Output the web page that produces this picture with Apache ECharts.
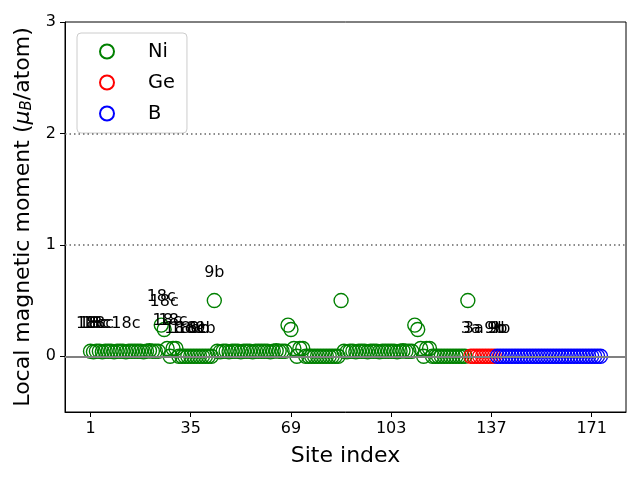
<!DOCTYPE html>
<html>
<head>
<meta charset="utf-8">
<script src="https://cdn.jsdelivr.net/npm/echarts@6/dist/echarts.min.js"></script>
<style>html,body{margin:0;padding:0;background:#fff;}#c{width:640px;height:480px;}</style>
</head>
<body>
<div id="c"></div>
<script>
// Local magnetic moments per site (muB/atom)
const niValues = [
  0.045,0.04,0.045,0.045,0.04,0.045,0.045,0.045,0.04,0.045,0.045,0.045,0.04,0.045,0.045,0.045,0.045,0.045,0.04,0.045,0.05,0.045,0.045,0.045,
  0.28,0.24,
  0.07,0.0,0.07,0.07,0.0,0.0,
  0.0,0.0,0.0,0.0,0.0,0.0,0.0,0.0,0.0,0.0,
  0.5,
  0.045,0.04,0.045,0.045,0.04,0.045,0.045,0.045,0.04,0.045,0.045,0.045,0.04,0.045,0.045,0.045,0.045,0.045,0.04,0.045,0.05,0.045,0.045,0.045,
  0.28,0.24,
  0.07,0.0,0.07,0.07,0.0,0.0,
  0.0,0.0,0.0,0.0,0.0,0.0,0.0,0.0,0.0,0.0,
  0.5,
  0.045,0.04,0.045,0.045,0.04,0.045,0.045,0.045,0.04,0.045,0.045,0.045,0.04,0.045,0.045,0.045,0.045,0.045,0.04,0.045,0.05,0.045,0.045,0.045,
  0.28,0.24,
  0.07,0.0,0.07,0.07,0.0,0.0,
  0.0,0.0,0.0,0.0,0.0,0.0,0.0,0.0,0.0,0.0,
  0.5
];
const geValues = [0,0,0,0,0,0,0,0,0];
const bValues = [
  0,0,0,0,0,0,0,0,0,0,0,0,0,0,0,0,0,0,
  0,0,0,0,0,0,0,0,0,0,0,0,0,0,0,0,0,0
];
const xTicks = [1,35,69,103,137,171];
const yTicks = [0,1,2,3];
// Wyckoff labels: [site index, text]
const siteLabels = [
  [1,'18c'],[2,'18c'],[3,'18c'],[4,'18c'],[13,'18c'],
  [25,'18c'],[26,'18c'],[27,'18c'],[29,'18c'],[31,'18c'],
  [33,'18c'],[35,'18c'],[37,'6c'],[38,'9b'],[40,'9b'],
  [43,'9b'],
  [130,'3a'],[131,'3a'],[138,'9b'],[139,'9b'],[140,'9b']
];

const allValues = niValues.concat(geValues, bValues);
const niData = niValues.map((v,i)=>[i+1,v]);
const geData = geValues.map((v,i)=>[niValues.length+i+1,v]);
const bData = bValues.map((v,i)=>[niValues.length+geValues.length+i+1,v]);
const labelData = siteLabels.map(([s,t])=>[s, allValues[s-1]+0.25, t]);

const nSites = allValues.length;
const pad = 0.05*(nSites-1);

function sc(name,data,color){
  return {
    name, type:'scatter', data, symbol:'circle', symbolSize:14,
    itemStyle:{color:'rgba(0,0,0,0)', borderColor:color, borderWidth:1.4, opacity:1},
    emphasis:{disabled:true}, z:3
  };
}

const chart = echarts.init(document.getElementById('c'));
chart.setOption({
  animation:false,
  backgroundColor:'#fff',
  textStyle:{fontFamily:'DejaVu Sans'},
  grid:{left:65,right:14,top:22,bottom:68,show:true,borderColor:'#000',borderWidth:1,backgroundColor:'rgba(0,0,0,0)'},
  legend:{
    orient:'vertical', left:77, top:33,
    data:['Ni','Ge','B'],
    itemWidth:14, itemHeight:14, itemGap:12,
    padding:[9,12,10,22],
    borderColor:'#cccccc', borderWidth:1, borderRadius:4,
    backgroundColor:'rgba(255,255,255,0.8)',
    textStyle:{fontSize:19.4, color:'#000', fontFamily:'DejaVu Sans', padding:[0,0,0,29]}
  },
  xAxis:{
    type:'value', min:1-pad, max:nSites+pad,
    name:'Site index', nameLocation:'middle', nameGap:33,
    nameTextStyle:{fontSize:22, color:'#000', fontFamily:'DejaVu Sans'},
    axisLine:{show:true,onZero:false,lineStyle:{color:'#000',width:1}},
    axisTick:{show:true, length:5, customValues:xTicks, lineStyle:{color:'#000'}},
    axisLabel:{customValues:xTicks, fontSize:16, color:'#000', margin:9, fontFamily:'DejaVu Sans'},
    splitLine:{show:false}
  },
  yAxis:{
    type:'value', min:-0.5, max:3,
    name:'Local magnetic moment ({it|μ}{sub|B}/atom)', nameLocation:'middle', nameGap:25,
    nameTextStyle:{fontSize:22, color:'#000', fontFamily:'DejaVu Sans',
      rich:{it:{fontSize:22,fontStyle:'italic',fontFamily:'DejaVu Sans',color:'#000'},
            sub:{fontSize:15,fontStyle:'italic',fontFamily:'DejaVu Sans',color:'#000',verticalAlign:'bottom',padding:[8,0,0,0]}}},
    axisLine:{show:true,onZero:false,lineStyle:{color:'#000',width:1}},
    axisTick:{show:true, length:5, customValues:yTicks, lineStyle:{color:'#000'}},
    axisLabel:{customValues:yTicks, fontSize:16, color:'#000', margin:9, fontFamily:'DejaVu Sans'},
    splitLine:{show:false}
  },
  series:[
    {
      type:'line', data:[], silent:true, z:1,
      markLine:{
        silent:true, symbol:'none', label:{show:false}, animation:false,
        data:[
          {yAxis:0, lineStyle:{color:'#808080', width:2, type:'solid'}},
          {yAxis:1, lineStyle:{color:'#666', width:1.5, type:[1.5,3]}},
          {yAxis:2, lineStyle:{color:'#666', width:1.5, type:[1.5,3]}}
        ]
      }
    },
    sc('Ni',niData,'#008000'),
    sc('Ge',geData,'#ff0000'),
    sc('B',bData,'#0000ff'),
    {
      type:'scatter', data:labelData, symbolSize:0, silent:true, z:5,
      itemStyle:{opacity:1},
      label:{show:true, position:'inside', formatter:p=>p.value[2], color:'#000', opacity:1, fontSize:16, fontFamily:'DejaVu Sans'}
    }
  ]
});
</script>
</body>
</html>
